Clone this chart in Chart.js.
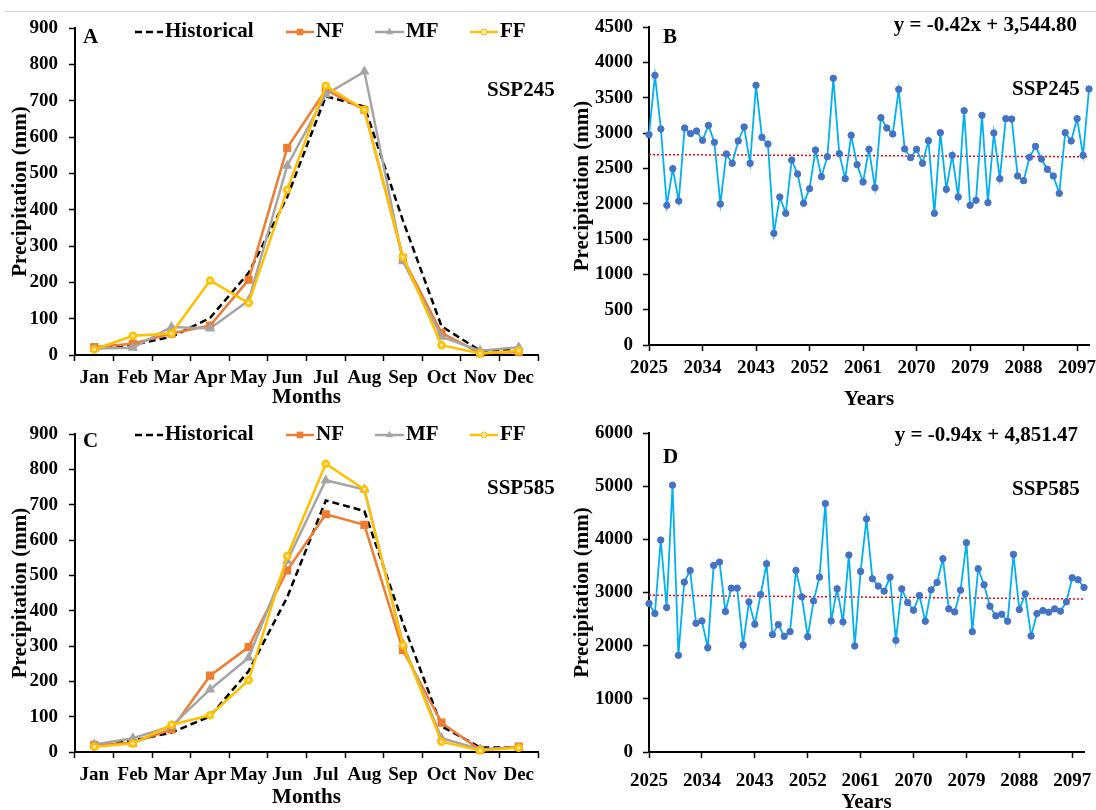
<!DOCTYPE html>
<html>
<head>
<meta charset="utf-8">
<script src="https://cdn.jsdelivr.net/npm/chart.js@4.4.1/dist/chart.umd.min.js"></script>
<style>
  body { margin: 0; background: #fff; width: 1096px; height: 810px; overflow: hidden; position: relative; }
  canvas { position: absolute; }
  #rule { position: absolute; left: 5px; right: 0; top: 11px; height: 1px; background: #d4d4d4; }
</style>
</head>
<body>
<div id="rule"></div>
<canvas id="chartA" width="560" height="410" style="left:0;top:0"></canvas>
<canvas id="chartB" width="536" height="412" style="left:560px;top:0"></canvas>
<canvas id="chartC" width="560" height="400" style="left:0;top:410px"></canvas>
<canvas id="chartD" width="536" height="405" style="left:560px;top:410px"></canvas>
<script>
  // monthly precipitation (mm)
  const months = ['Jan', 'Feb', 'Mar', 'Apr', 'May', 'Jun', 'Jul', 'Aug', 'Sep', 'Oct', 'Nov', 'Dec'];

  const histA = [18, 28, 50, 102, 226, 435, 712, 684, 370, 79, 12, 14];
  const nfA   = [22, 31, 59, 81, 207, 570, 730, 675, 267, 61, 5, 8];
  const mfA   = [18, 20, 77, 73, 150, 521, 717, 780, 258, 50, 12, 21];
  const ffA   = [15, 53, 59, 205, 143, 455, 741, 675, 270, 27, 4, 12];

  const histC = [19, 32, 55, 101, 229, 438, 712, 682, 365, 73, 13, 13];
  const nfC   = [20, 26, 64, 216, 297, 514, 673, 643, 288, 83, 6, 15];
  const mfC   = [21, 39, 73, 177, 267, 541, 769, 743, 306, 39, 8, 13];
  const ffC   = [15, 24, 77, 104, 203, 555, 816, 743, 302, 29, 4, 12];

  // annual precipitation (mm)
  const years = [2025, 2026, 2027, 2028, 2029, 2030, 2031, 2032, 2033, 2034,
    2035, 2036, 2037, 2038, 2039, 2040, 2041, 2042, 2043, 2044,
    2045, 2046, 2047, 2048, 2049, 2050, 2051, 2052, 2053, 2054,
    2055, 2056, 2057, 2058, 2059, 2060, 2061, 2062, 2063, 2064,
    2065, 2066, 2067, 2068, 2069, 2070, 2071, 2072, 2073, 2074,
    2075, 2076, 2077, 2078, 2079, 2080, 2081, 2082, 2083, 2084,
    2085, 2086, 2087, 2088, 2089, 2090, 2091, 2092, 2093, 2094,
    2095, 2096, 2097, 2098, 2099];

  const ssp245 = [2976, 3816, 3057, 1976, 2495, 2038, 3071, 2991, 3028, 2896,
    3108, 2868, 1995, 2703, 2571, 2887, 3085, 2571, 3675, 2939,
    2844, 1580, 2094, 1863, 2618, 2420, 2005, 2212, 2759, 2382,
    2665, 3774, 2708, 2354, 2967, 2552, 2307, 2769, 2226, 3217,
    3071, 2986, 3618, 2774, 2651, 2769, 2571, 2892, 1863, 3005,
    2203, 2684, 2094, 3316, 1976, 2047, 3250, 2014, 3000, 2354,
    3203, 3198, 2392, 2325, 2656, 2811, 2632, 2486, 2392, 2146,
    3005, 2887, 3203, 2684, 3623];

  const ssp585 = [2792, 2604, 3987, 2717, 5019, 1818, 3195, 3415, 2421, 2466,
    1962, 3510, 3572, 2642, 3082, 3082, 2013, 2824, 2403, 2962,
    3541, 2208, 2396, 2176, 2264, 3415, 2918, 2170, 2843, 3289,
    4673, 2466, 3069, 2447, 3704, 1994, 3396, 4384, 3258, 3120,
    3025, 3289, 2101, 3069, 2811, 2667, 2943, 2459, 3050, 3189,
    3635, 2692, 2635, 3044, 3937, 2264, 3447, 3145, 2742, 2560,
    2591, 2459, 3717, 2679, 2975, 2182, 2604, 2660, 2629, 2692,
    2648, 2824, 3277, 3239, 3094];

  // trend lines as printed on the chart: y = slope * year + intercept
  const trend245 = [-0.42, 3544.80];
  const trend585 = [-0.94, 4851.47];

  const serif = '"Liberation Serif", "Times New Roman", serif';
  const tickFont = { family: serif, size: 19, weight: 'bold' };
  const titleFont = { family: serif, size: 21, weight: 'bold' };

  // text notes + line legend drawn on the canvas
  const notesPlugin = {
    id: 'notes',
    afterDraw(chart, args, opts) {
      const ctx = chart.ctx;
      ctx.save();
      ctx.textBaseline = 'middle';
      ctx.font = 'bold 21px ' + serif;
      (opts.keys || []).forEach(k => {
        const ds = chart.data.datasets[k.index];
        ctx.strokeStyle = ds.borderColor;
        ctx.lineWidth = 2.5;
        ctx.setLineDash(ds.borderDash || []);
        ctx.beginPath();
        ctx.moveTo(k.x0, k.y);
        ctx.lineTo(k.x1, k.y);
        ctx.stroke();
        ctx.setLineDash([]);
        if (ds.pointRadius > 0) {
          ctx.fillStyle = ds.pointBackgroundColor;
          ctx.lineWidth = 1;
          Chart.helpers.drawPoint(ctx, { pointStyle: ds.pointStyle, radius: ds.pointRadius, rotation: 0, borderWidth: 1 }, (k.x0 + k.x1) / 2, k.y);
        }
        ctx.fillStyle = '#000';
        ctx.textAlign = 'left';
        ctx.fillText(ds.label, k.x1 + 2, k.y);
      });
      (opts.items || []).forEach(n => {
        ctx.fillStyle = '#000';
        ctx.textAlign = n.align || 'left';
        ctx.fillText(n.text, n.x, n.y);
      });
      ctx.restore();
    }
  };

  const plain = v => String(v);

  function monthChart(id, sets, h, padTop, notes, keyY) {
    return new Chart(document.getElementById(id), {
      type: 'line',
      data: {
        labels: months,
        datasets: [
          { label: 'Historical', data: sets[0], borderColor: '#000', borderDash: [7, 4], borderWidth: 2.5, pointRadius: 0, order: 3 },
          { label: 'NF', data: sets[1], borderColor: '#ED7D31', pointBackgroundColor: '#ED7D31', pointBorderColor: '#ED7D31', pointStyle: 'rect', pointRadius: 4, borderWidth: 2.5, order: 2 },
          { label: 'MF', data: sets[2], borderColor: '#A5A5A5', pointBackgroundColor: '#A5A5A5', pointBorderColor: '#A5A5A5', pointStyle: 'triangle', pointRadius: 3.5, borderWidth: 2.5, order: 1 },
          { label: 'FF', data: sets[3], borderColor: '#FFC000', pointBackgroundColor: '#FFE9A8', pointBorderColor: '#FFC000', pointStyle: 'circle', pointRadius: 3, borderWidth: 2.5, order: 0 }
        ]
      },
      options: {
        responsive: false,
        animation: false,
        clip: false,
        layout: { padding: { top: padTop, right: 22, left: 0, bottom: 0 } },
        plugins: {
          legend: { display: false },
          tooltip: { enabled: false },
          notes: {
            items: notes,
            keys: [
              { index: 0, x0: 135, x1: 163, y: keyY },
              { index: 1, x0: 286, x1: 314, y: keyY },
              { index: 2, x0: 375, x1: 404, y: keyY },
              { index: 3, x0: 470, x1: 498, y: keyY }
            ]
          }
        },
        scales: {
          x: {
            offset: true,
            grid: { offset: true, drawOnChartArea: false, color: '#000', tickLength: 6, tickWidth: 1.5 },
            border: { color: '#000', width: 2 },
            ticks: { font: tickFont, color: '#000', padding: 6, maxRotation: 0, autoSkip: false },
            title: { display: true, text: 'Months', font: titleFont, color: '#000', padding: 0 },
            afterFit(s) { s.height = h; }
          },
          y: {
            min: 0, max: 900,
            grid: { drawOnChartArea: false, color: '#000', tickLength: 6, tickWidth: 1.5 },
            border: { color: '#000', width: 2 },
            ticks: { stepSize: 100, font: tickFont, color: '#000', padding: 11, callback: plain },
            title: { display: true, text: 'Precipitation (mm)', font: titleFont, color: '#000', padding: { top: 8 } },
            afterFit(s) { s.width = 75; }
          }
        }
      },
      plugins: [notesPlugin]
    });
  }

  function yearChart(id, values, trend, yMax, yStep, h, padTop, padRight, tickPad, notes) {
    const trendLine = years.map(yr => trend[0] * yr + trend[1]);
    return new Chart(document.getElementById(id), {
      type: 'line',
      data: {
        labels: years,
        datasets: [
          { label: 'Precipitation', data: values, borderColor: '#00B0F0', borderWidth: 1.8, pointRadius: 3.2, pointBackgroundColor: '#4472C4', pointBorderColor: '#4472C4', pointBorderWidth: 1, order: 0 },
          { label: 'Linear', data: trendLine, borderColor: '#FF0000', borderDash: [2, 2], borderWidth: 1.5, pointRadius: 0, order: 1 }
        ]
      },
      options: {
        responsive: false,
        animation: false,
        clip: false,
        layout: { padding: { top: padTop, right: padRight, left: 0, bottom: 0 } },
        plugins: {
          legend: { display: false },
          tooltip: { enabled: false },
          notes: { items: notes }
        },
        scales: {
          x: {
            offset: false,
            grid: {
              drawOnChartArea: false, tickLength: 6, tickWidth: 1.5,
              color: c => (c.index % 9 === 0 ? '#000' : 'rgba(0,0,0,0)')
            },
            border: { color: '#000', width: 2 },
            ticks: {
              font: tickFont, color: '#000', padding: tickPad, maxRotation: 0, autoSkip: false,
              callback: (v, i) => (i % 9 === 0 ? String(years[i]) : '')
            },
            title: { display: true, text: 'Years', font: titleFont, color: '#000', padding: 0 },
            afterFit(s) { s.height = h; }
          },
          y: {
            min: 0, max: yMax,
            grid: { drawOnChartArea: false, color: '#000', tickLength: 6, tickWidth: 1.5 },
            border: { color: '#000', width: 2 },
            ticks: { stepSize: yStep, font: tickFont, color: '#000', padding: 10, callback: plain },
            title: { display: true, text: 'Precipitation (mm)', font: titleFont, color: '#000', padding: { top: 10 } },
            afterFit(s) { s.width = 89; }
          }
        }
      },
      plugins: [notesPlugin]
    });
  }

  monthChart('chartA', [histA, nfA, mfA, ffA], 55, 28,
    [{ text: 'A', x: 83, y: 38 }, { text: 'SSP245', x: 487, y: 91 }], 32);

  monthChart('chartC', [histC, nfC, mfC, ffC], 58, 24,
    [{ text: 'C', x: 83, y: 32 }, { text: 'SSP585', x: 487, y: 79 }], 25);

  yearChart('chartB', ssp245, trend245, 4500, 500, 67, 27, 7, 6,
    [{ text: 'B', x: 103, y: 38 },
     { text: 'y = -0.42x + 3,544.80', x: 517, y: 26, align: 'right' },
     { text: 'SSP245', x: 452, y: 90 }]);

  yearChart('chartD', ssp585, trend585, 6000, 1000, 63, 23, 3, 12,
    [{ text: 'D', x: 103, y: 48 },
     { text: 'y = -0.94x + 4,851.47', x: 518, y: 26, align: 'right' },
     { text: 'SSP585', x: 452, y: 80 }]);
</script>
</body>
</html>
